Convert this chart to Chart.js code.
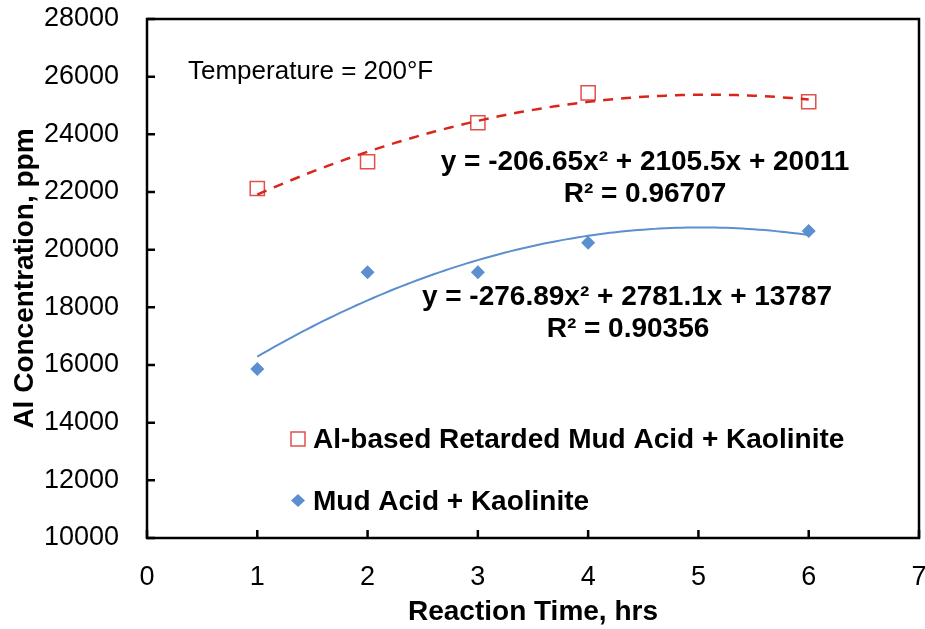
<!DOCTYPE html>
<html>
<head>
<meta charset="utf-8">
<script src="https://cdn.jsdelivr.net/npm/chart.js@4"></script>
<style>
  html, body { margin: 0; padding: 0; background: #fff; }
  #wrap { width: 925px; height: 629px; }
</style>
</head>
<body>
<div id="wrap"><canvas id="alChart" width="925" height="629"></canvas></div>
<script>
// reaction time (hrs)
const times = [1, 2, 3, 4, 6];
// Al concentration, ppm
const retardedAcid = [22120, 23050, 24400, 25440, 25130];
const mudAcid = [15860, 19220, 19220, 20240, 20650];
// polynomial trendline coefficients as printed on the chart (a, b, c)
const retardedFit = [-206.65, 2105.5, 20011];
const mudFit = [-276.89, 2781.1, 13787];
const xTicks = [0, 1, 2, 3, 4, 5, 6, 7];
const yTicks = [10000, 12000, 14000, 16000, 18000, 20000, 22000, 24000, 26000, 28000];

const FONT = "'Liberation Sans', Arial, sans-serif";
const RED = '#e0504c';
const RED_LINE = '#d9261c';
const BLUE = '#5b8fcf';

function trend(coef) {
  const pts = [];
  for (let i = 0; i <= 100; i++) {
    const x = times[0] + (times[times.length - 1] - times[0]) * i / 100;
    pts.push({ x: x, y: coef[0] * x * x + coef[1] * x + coef[2] });
  }
  return pts;
}

function toPoints(ys) {
  return times.map((t, i) => ({ x: t, y: ys[i] }));
}

function noPad(s) {
  s.paddingTop = 0; s.paddingBottom = 0; s.paddingLeft = 0; s.paddingRight = 0;
}

// inward ticks, box frame, annotations and legend
const decor = {
  id: 'decor',
  afterDraw(chart) {
    const ctx = chart.ctx;
    const a = chart.chartArea;
    const xs = chart.scales.x, ys = chart.scales.y;
    ctx.save();
    ctx.strokeStyle = '#000';
    ctx.lineWidth = 2.5;
    ctx.strokeRect(a.left, a.top, a.right - a.left, a.bottom - a.top);
    ctx.beginPath();
    xTicks.forEach(v => {
      const px = xs.getPixelForValue(v);
      ctx.moveTo(px, a.bottom);
      ctx.lineTo(px, a.bottom - 8);
    });
    yTicks.forEach(v => {
      const py = ys.getPixelForValue(v);
      ctx.moveTo(a.left, py);
      ctx.lineTo(a.left + 8, py);
    });
    ctx.stroke();

    ctx.fillStyle = '#000';
    ctx.textBaseline = 'middle';
    ctx.textAlign = 'left';
    ctx.font = '26px ' + FONT;
    ctx.fillText('Temperature = 200°F', 188, 72);

    ctx.font = 'bold 28px ' + FONT;
    ctx.textAlign = 'center';
    ctx.fillText('y = -206.65x² + 2105.5x + 20011', 645, 162);
    ctx.fillText('R² = 0.96707', 645, 194);
    ctx.fillText('y = -276.89x² + 2781.1x + 13787', 627, 297);
    ctx.fillText('R² = 0.90356', 628, 329);

    // legend
    ctx.textAlign = 'left';
    ctx.strokeStyle = RED;
    ctx.lineWidth = 1.5;
    ctx.strokeRect(291, 432, 14, 14);
    ctx.fillText(chart.data.datasets[0].label, 313, 440);
    ctx.fillStyle = BLUE;
    ctx.beginPath();
    ctx.moveTo(298, 494); ctx.lineTo(305, 500.5); ctx.lineTo(298, 507); ctx.lineTo(291, 500.5);
    ctx.closePath();
    ctx.fill();
    ctx.fillStyle = '#000';
    ctx.fillText(chart.data.datasets[1].label, 313, 502);
    ctx.restore();
  }
};

new Chart(document.getElementById('alChart'), {
  type: 'scatter',
  data: {
    datasets: [
      {
        label: 'Al-based Retarded Mud Acid + Kaolinite',
        data: toPoints(retardedAcid),
        pointStyle: 'rect',
        pointRadius: 10,
        backgroundColor: 'rgba(255,255,255,0)',
        borderColor: RED,
        borderWidth: 1.5,
        order: 2
      },
      {
        label: 'Mud Acid + Kaolinite',
        data: toPoints(mudAcid),
        pointStyle: 'rectRot',
        pointRadius: 7,
        backgroundColor: BLUE,
        borderColor: BLUE,
        borderWidth: 0,
        order: 2
      },
      {
        label: 'retarded trend',
        data: trend(retardedFit),
        showLine: true,
        pointRadius: 0,
        borderColor: RED_LINE,
        borderWidth: 2.5,
        borderDash: [10, 8],
        fill: false,
        order: 1
      },
      {
        label: 'mud trend',
        data: trend(mudFit),
        showLine: true,
        pointRadius: 0,
        borderColor: BLUE,
        borderWidth: 2,
        fill: false,
        order: 1
      }
    ]
  },
  options: {
    responsive: false,
    animation: false,
    events: [],
    layout: { autoPadding: false, padding: { top: 19, right: 6, left: 0, bottom: 0 } },
    plugins: {
      legend: { display: false },
      tooltip: { enabled: false }
    },
    scales: {
      x: {
        type: 'linear',
        min: 0,
        max: 7,
        afterBuildTicks(s) { s.ticks = xTicks.map(v => ({ value: v })); },
        afterFit(s) { s.height = 91; noPad(s); },
        grid: { display: false, drawTicks: false },
        border: { display: false },
        ticks: { color: '#000', padding: 23, font: { family: FONT, size: 27 }, callback: v => String(v) },
        title: {
          display: true,
          text: 'Reaction Time, hrs',
          color: '#000',
          padding: { top: 0, bottom: 0 },
          font: { family: FONT, size: 28, weight: 'bold' }
        }
      },
      y: {
        type: 'linear',
        min: 10000,
        max: 28000,
        afterBuildTicks(s) { s.ticks = yTicks.map(v => ({ value: v })); },
        afterFit(s) { s.width = 147; noPad(s); },
        grid: { display: false, drawTicks: false },
        border: { display: false },
        ticks: { color: '#000', padding: 28, font: { family: FONT, size: 27 }, callback: v => String(v) },
        title: {
          display: true,
          text: 'Al Concentration, ppm',
          color: '#000',
          padding: { top: 8, bottom: 0 },
          font: { family: FONT, size: 28, weight: 'bold' }
        }
      }
    }
  },
  plugins: [decor]
});
</script>
</body>
</html>
